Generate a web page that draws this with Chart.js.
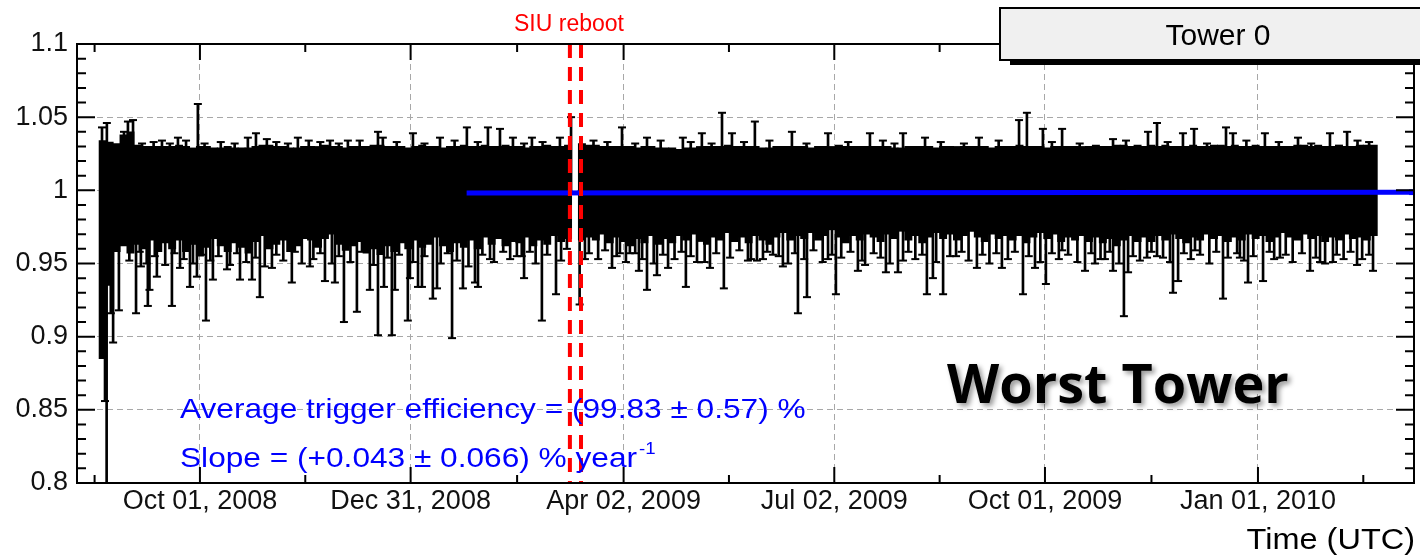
<!DOCTYPE html>
<html>
<head>
<meta charset="utf-8">
<title>Tower 0 trigger efficiency</title>
<script src="https://cdn.jsdelivr.net/npm/chart.js@4.4.1/dist/chart.umd.min.js"></script>
<style>
  html, body { margin: 0; padding: 0; background: #fff; }
  #c { display: block; }
</style>
</head>
<body>
<canvas id="c" width="1420" height="556"></canvas>
<script>
(() => {
    'use strict';

    // ===== Ejes (x = días desde Oct 01, 2008) =====
    const X_MIN = -53.1, X_MAX = 524.4;
    const xTickDays   = [0, 91, 183, 274, 365, 457];
    const xTickLabels = ['Oct 01, 2008', 'Dec 31, 2008', 'Apr 02, 2009', 'Jul 02, 2009', 'Oct 01, 2009', 'Jan 01, 2010'];
    const xMinorDays  = [-45.5, 45.5, 137, 228.5, 319.5, 411, 502.5];
    const yTickValues = [0.8, 0.85, 0.9, 0.95, 1, 1.05, 1.1];
    const yTickLabels = ['0.8', '0.85', '0.9', '0.95', '1', '1.05', '1.1'];
    const yMinorValues = [0.81, 0.82, 0.83, 0.84, 0.86, 0.87, 0.88, 0.89, 0.91, 0.92, 0.93, 0.94,
                          0.96, 0.97, 0.98, 0.99, 1.01, 1.02, 1.03, 1.04, 1.06, 1.07, 1.08, 1.09];

    // ===== Banda densa de barras de error (cada 3 días) =====
    const binDay = [
        -42, -39, -36, -33, -30, -27, -24, -21, -18, -15,
        -12, -9, -6, -3, 0, 3, 6, 9, 12, 15,
        18, 21, 24, 27, 30, 33, 36, 39, 42, 45,
        48, 51, 54, 57, 60, 63, 66, 69, 72, 75,
        78, 81, 84, 87, 90, 93, 96, 99, 102, 105,
        108, 111, 114, 117, 120, 123, 126, 129, 132, 135,
        138, 141, 144, 147, 150, 153, 156, 159, 165, 168,
        171, 174, 177, 180, 183, 186, 189, 192, 195, 198,
        201, 204, 207, 210, 213, 216, 219, 222, 225, 228,
        231, 234, 237, 240, 243, 246, 249, 252, 255, 258,
        261, 264, 267, 270, 273, 276, 279, 282, 285, 288,
        291, 294, 297, 300, 303, 306, 309, 312, 315, 318,
        321, 324, 327, 330, 333, 336, 339, 342, 345, 348,
        351, 354, 357, 360, 363, 366, 369, 372, 375, 378,
        381, 384, 387, 390, 393, 396, 399, 402, 405, 408,
        411, 414, 417, 420, 423, 426, 429, 432, 435, 438,
        441, 444, 447, 450, 453, 456, 459, 462, 465, 468,
        471, 474, 477, 480, 483, 486, 489, 492, 495, 498,
        501, 504, 507
    ];
    const bandLo = [
        0.885, 0.935, 0.958, 0.962, 0.957, 0.963, 0.960, 0.966, 0.958, 0.964,
        0.960, 0.966, 0.958, 0.963, 0.955, 0.961, 0.967, 0.962, 0.958, 0.964,
        0.961, 0.957, 0.965, 0.969, 0.960, 0.963, 0.966, 0.958, 0.962, 0.967,
        0.966, 0.961, 0.967, 0.970, 0.963, 0.959, 0.962, 0.965, 0.957, 0.960,
        0.956, 0.962, 0.958, 0.964, 0.960, 0.966, 0.961, 0.963, 0.968, 0.962,
        0.958, 0.964, 0.961, 0.966, 0.960, 0.968, 0.963, 0.967, 0.962, 0.965,
        0.964, 0.968, 0.962, 0.966, 0.963, 0.969, 0.965, 0.967, 0.966, 0.968,
        0.966, 0.970, 0.964, 0.968, 0.965, 0.962, 0.967, 0.964, 0.969, 0.963,
        0.967, 0.964, 0.969, 0.966, 0.970, 0.965, 0.963, 0.968, 0.966, 0.971,
        0.965, 0.968, 0.964, 0.969, 0.966, 0.963, 0.968, 0.971, 0.966, 0.969,
        0.967, 0.971, 0.966, 0.969, 0.973, 0.968, 0.964, 0.969, 0.966, 0.970,
        0.968, 0.965, 0.970, 0.967, 0.972, 0.966, 0.969, 0.964, 0.968, 0.971,
        0.967, 0.970, 0.966, 0.969, 0.972, 0.968, 0.965, 0.970, 0.967, 0.969,
        0.966, 0.969, 0.964, 0.968, 0.971, 0.967, 0.970, 0.965, 0.968, 0.966,
        0.969, 0.965, 0.968, 0.964, 0.967, 0.962, 0.966, 0.969, 0.965, 0.968,
        0.965, 0.969, 0.966, 0.970, 0.967, 0.964, 0.968, 0.966, 0.970, 0.967,
        0.969, 0.965, 0.968, 0.966, 0.970, 0.967, 0.969, 0.965, 0.968, 0.971,
        0.968, 0.966, 0.970, 0.967, 0.969, 0.965, 0.968, 0.966, 0.970, 0.967,
        0.968, 0.966, 0.969
    ];
    const bandHi = [
        1.034, 1.033, 1.032, 1.038, 1.040, 1.031, 1.030, 1.030, 1.030, 1.030,
        1.030, 1.031, 1.030, 1.029, 1.030, 1.030, 1.029, 1.029, 1.030, 1.029,
        1.029, 1.029, 1.030, 1.031, 1.031, 1.030, 1.030, 1.029, 1.029, 1.030,
        1.030, 1.030, 1.031, 1.030, 1.030, 1.029, 1.030, 1.030, 1.030, 1.031,
        1.031, 1.030, 1.030, 1.030, 1.029, 1.030, 1.031, 1.030, 1.030, 1.029,
        1.030, 1.030, 1.031, 1.030, 1.030, 1.031, 1.030, 1.030, 1.031, 1.030,
        1.030, 1.029, 1.030, 1.030, 1.031, 1.030, 1.030, 1.031, 1.032, 1.031,
        1.031, 1.030, 1.030, 1.030, 1.030, 1.030, 1.029, 1.030, 1.030, 1.029,
        1.029, 1.029, 1.028, 1.029, 1.029, 1.030, 1.030, 1.030, 1.030, 1.031,
        1.030, 1.030, 1.030, 1.030, 1.029, 1.029, 1.030, 1.030, 1.030, 1.030,
        1.030, 1.029, 1.030, 1.030, 1.030, 1.031, 1.030, 1.030, 1.030, 1.030,
        1.030, 1.030, 1.030, 1.029, 1.029, 1.030, 1.030, 1.030, 1.030, 1.029,
        1.030, 1.030, 1.030, 1.030, 1.030, 1.030, 1.030, 1.029, 1.030, 1.030,
        1.030, 1.031, 1.030, 1.030, 1.030, 1.029, 1.030, 1.030, 1.030, 1.030,
        1.030, 1.030, 1.031, 1.030, 1.030, 1.031, 1.031, 1.030, 1.031, 1.030,
        1.031, 1.030, 1.031, 1.030, 1.030, 1.030, 1.031, 1.030, 1.030, 1.031,
        1.031, 1.030, 1.031, 1.030, 1.030, 1.031, 1.030, 1.030, 1.030, 1.030,
        1.030, 1.031, 1.031, 1.030, 1.031, 1.030, 1.030, 1.031, 1.030, 1.030,
        1.031, 1.031, 1.031
    ];

    // ===== Barras de error largas (extremo inferior / superior) =====
    const lowDay = [
        -41, -40.3, -38.5, -37.5, -35, -27.6, -25.5, -22.5, -21.8, -18.6, -12.1, -8.6, -4.3, -1.3,
        2.6, 5.6, 11.7, 17.3, 22.5, 25.9, 31.1, 39.7, 47.5, 54, 58.3, 62.2, 67.8, 73.4, 76.9, 79.5,
        82.9, 84.2, 89.8, 90.7, 94.2, 95.9, 100.6, 102.4, 108.9, 113.6, 118.8, 120.1, 125.3, 136.9,
        140, 142.5, 147.7, 153.8, 158.5, 164, 166.3, 178, 181.4, 185.7, 189.6, 193.1, 197.4, 202.2,
        209.9, 214.7, 220.3, 226.3, 236.7, 240.6, 243.2, 247.5, 251.8, 258.3, 262.2, 271.3, 274.7,
        284.2, 287.3, 296.3, 301.5, 303.7, 314, 316.6, 321, 326.6, 335.6, 346.4, 355.5, 360.7,
        365.4, 372.4, 382.3, 386.6, 390.9, 394.4, 399.1, 400.9, 409.1, 413.4, 420.3, 422.5, 429.8,
        441.9, 449.2, 452.7, 459.2, 466.5, 479.5, 483.8, 489.4, 499.8, 506.7
    ];
    const lowVal = [
        0.856, 0.800, 0.916, 0.896, 0.918, 0.916, 0.948, 0.921, 0.932, 0.941, 0.921, 0.947, 0.934, 0.941,
        0.911, 0.939, 0.946, 0.939, 0.939, 0.927, 0.947, 0.937, 0.948, 0.938, 0.937, 0.910, 0.917, 0.932, 0.901, 0.934,
        0.901, 0.932, 0.911, 0.940, 0.934, 0.934, 0.926, 0.933, 0.899, 0.933, 0.937, 0.934, 0.953, 0.955,
        0.940, 0.958, 0.911, 0.929, 0.960, 0.922, 0.953, 0.947, 0.957, 0.957, 0.945, 0.932, 0.942, 0.947,
        0.934, 0.951, 0.947, 0.933, 0.952, 0.952, 0.953, 0.956, 0.948, 0.916, 0.927, 0.953, 0.929,
        0.945, 0.949, 0.944, 0.944, 0.952, 0.929, 0.940, 0.929, 0.955, 0.947, 0.947, 0.929, 0.947,
        0.936, 0.959, 0.945, 0.950, 0.953, 0.945, 0.914, 0.944, 0.954, 0.955, 0.930, 0.938, 0.959,
        0.926, 0.954, 0.937, 0.938, 0.954, 0.945, 0.951, 0.951, 0.949, 0.945
    ];
    const upDay = [
        -42.3, -40.2, -32.8, -31.1, -28.9, -16.4, -9.5, -0.9, 20.7, 24.2, 28.9, 42.3, 56.2, 63.9,
        76.9, 79, 92, 103.7, 115.3, 124.4, 129.6, 135.2, 143.4, 155.5, 160.3, 182.3, 193.1, 208.6,
        216.8, 225.5, 229.8, 239.7, 255.7, 271.3, 289.4, 303.7, 313.2, 336.5, 353.8, 357.2, 364.1,
        372.4, 394.4, 409.5, 413.4, 424.6, 429.4, 443.2, 446.2, 460, 474.3, 488.1, 495.5
    ];
    const upVal = [
        1.043, 1.046, 1.040, 1.047, 1.048, 1.034, 1.036, 1.059, 1.036, 1.039, 1.035, 1.036, 1.034, 1.034,
        1.040, 1.036, 1.039, 1.036, 1.043, 1.043, 1.042, 1.036, 1.036, 1.036, 1.050, 1.043, 1.036, 1.036,
        1.039, 1.053, 1.039, 1.047, 1.040, 1.039, 1.039, 1.039, 1.036, 1.036, 1.048, 1.053, 1.042,
        1.042, 1.035, 1.040, 1.046, 1.039, 1.042, 1.043, 1.039, 1.039, 1.036, 1.039, 1.040
    ];

    // ===== Barras cortas en el borde de la banda =====
    const shortLowDay = [
        -30.5, -26, -23, -19.5, -15, -11, -7, -3, 1, 4.5,
        8, 13, 16, 20, 24, 28, 33, 36, 41, 44,
        49, 52, 57, 60, 65, 70, 75, 81, 86, 92,
        97, 104, 107, 111, 116, 122, 127, 131, 134, 139,
        145, 150, 156, 168, 172, 175, 180, 184, 188, 191,
        196, 200, 205, 208, 212, 218, 223, 229, 233, 238,
        245, 250, 254, 257, 261, 265, 269, 273, 277, 281,
        286, 291, 294, 298, 306, 309, 312, 318, 324, 329,
        332, 338, 341, 344, 349, 352, 358, 363, 368, 371,
        375, 379, 385, 389, 393, 397, 403, 406, 411, 416,
        419, 425, 428, 432, 436, 439, 444, 448, 451, 455,
        462, 464, 469, 472, 476, 482, 486, 491, 494, 497,
        502, 505
    ];
    const shortLowVal = [
        0.952, 0.958, 0.950, 0.955, 0.949, 0.957, 0.953, 0.950, 0.956, 0.952,
        0.955, 0.949, 0.957, 0.951, 0.954, 0.948, 0.956, 0.952, 0.958, 0.950,
        0.953, 0.957, 0.950, 0.955, 0.951, 0.958, 0.949, 0.954, 0.956, 0.951,
        0.955, 0.950, 0.957, 0.952, 0.948, 0.956, 0.951, 0.958, 0.953, 0.955,
        0.950, 0.956, 0.952, 0.957, 0.953, 0.959, 0.955, 0.951, 0.957, 0.953,
        0.950, 0.956, 0.953, 0.958, 0.955, 0.951, 0.957, 0.954, 0.959, 0.953,
        0.958, 0.955, 0.950, 0.957, 0.953, 0.959, 0.951, 0.956, 0.954, 0.958,
        0.952, 0.957, 0.954, 0.950, 0.958, 0.953, 0.956, 0.951, 0.955, 0.958,
        0.952, 0.956, 0.950, 0.957, 0.953, 0.958, 0.955, 0.951, 0.957, 0.953,
        0.956, 0.951, 0.957, 0.953, 0.958, 0.950, 0.955, 0.952, 0.958, 0.954,
        0.951, 0.957, 0.953, 0.956, 0.950, 0.958, 0.954, 0.957, 0.952, 0.955,
        0.958, 0.953, 0.956, 0.951, 0.957, 0.954, 0.950, 0.956, 0.953, 0.958,
        0.953, 0.956
    ];
    const shortUpDay = [
        -25, -20, -13, -6, 2, 9, 15, 33, 38, 47,
        52, 60, 69, 85, 97, 110, 120, 140, 148, 170,
        176, 188, 199, 212, 221, 235, 246, 262, 280, 295,
        300, 320, 330, 345, 368, 380, 400, 418, 435, 452,
        466, 480, 500, 505
    ];
    const shortUpVal = [
        1.032, 1.033, 1.032, 1.034, 1.032, 1.033, 1.032, 1.033, 1.032, 1.034,
        1.033, 1.032, 1.034, 1.033, 1.032, 1.034, 1.033, 1.032, 1.033, 1.034,
        1.033, 1.032, 1.034, 1.033, 1.032, 1.033, 1.034, 1.032, 1.033, 1.034,
        1.032, 1.033, 1.032, 1.034, 1.033, 1.032, 1.034, 1.033, 1.032, 1.034,
        1.033, 1.032, 1.034, 1.033
    ];

    // ===== Ajuste lineal y reinicio SIU =====
    const fitDay = [115.2, 523.5];
    const fitVal = [0.9982, 0.9987];
    const rebootDays = [159.8, 164.6];

    const FONT = '"Liberation Sans", Arial, sans-serif';

    function drawLabel(ctx, str, x, y, font, color, align, sx) {
        ctx.save();
        ctx.font = font;
        ctx.fillStyle = color;
        ctx.textAlign = align;
        ctx.textBaseline = 'alphabetic';
        ctx.translate(x, y);
        ctx.scale(sx || 1, 1);
        ctx.fillText(str, 0, 0);
        const w = ctx.measureText(str).width * (sx || 1);
        ctx.restore();
        return w;
    }

    // Marco estilo ROOT + marcas menores + textos
    const framePlugin = {
        id: 'rootFrame',
        afterDatasetsDraw(chart) {
            const { ctx, chartArea: a, scales } = chart;
            const x = scales.x, y = scales.y;
            ctx.save();
            ctx.strokeStyle = '#000';
            ctx.lineWidth = 2;
            ctx.strokeRect(a.left, a.top, a.right - a.left, a.bottom - a.top);
            ctx.beginPath();
            const tickX = (d, len) => {
                const px = x.getPixelForValue(d);
                ctx.moveTo(px, a.bottom); ctx.lineTo(px, a.bottom - len);
                ctx.moveTo(px, a.top);    ctx.lineTo(px, a.top + len);
            };
            const tickY = (v, len) => {
                const py = y.getPixelForValue(v);
                ctx.moveTo(a.left, py);  ctx.lineTo(a.left + len, py);
                ctx.moveTo(a.right, py); ctx.lineTo(a.right - len, py);
            };
            xTickDays.forEach(d => tickX(d, 16));
            xMinorDays.forEach(d => tickX(d, 8));
            yTickValues.forEach(v => tickY(v, 18));
            yMinorValues.forEach(v => tickY(v, 9));
            ctx.stroke();
            ctx.restore();
        },
        afterDraw(chart) {
            const { ctx } = chart;

            // Caja "Tower 0" con sombra
            ctx.save();
            ctx.fillStyle = '#000';
            ctx.fillRect(1010, 60, 420, 5);
            ctx.fillStyle = '#f0f0f0';
            ctx.fillRect(1000, 8, 430, 52);
            ctx.strokeStyle = '#000';
            ctx.lineWidth = 2;
            ctx.strokeRect(1000, 8, 430, 52);
            ctx.restore();
            drawLabel(ctx, 'Tower 0', 1218, 45, '30px ' + FONT, '#000', 'center', 1);

            drawLabel(ctx, 'SIU reboot', 569, 31, '23px ' + FONT, '#ff0000', 'center', 1);

            const blue = '#0000ff';
            drawLabel(ctx, 'Average trigger efficiency = (99.83 \u00b1 0.57) %', 180, 418, '28px ' + FONT, blue, 'left', 1.13);
            const w = drawLabel(ctx, 'Slope = (+0.043 \u00b1 0.066) % year', 180, 467, '28px ' + FONT, blue, 'left', 1.13);
            drawLabel(ctx, '-1', 180 + w + 2, 454, '17px ' + FONT, blue, 'left', 1.1);

            drawLabel(ctx, 'Time (UTC)', 1415, 549, '29px ' + FONT, '#000', 'right', 1.12);

            ctx.save();
            ctx.shadowColor = 'rgba(0,0,0,0.4)';
            ctx.shadowOffsetX = 3;
            ctx.shadowOffsetY = 3;
            ctx.shadowBlur = 5;
            drawLabel(ctx, 'Worst Tower', 947, 403, 'bold 54px "Open Sans", sans-serif', '#000', 'left', 1);
            ctx.restore();
        }
    };

    const gridOpts = { color: '#a8a8a8', lineWidth: 1, drawTicks: false, offset: false };
    const tickFont = { family: FONT, size: 27 };

    const lowPts = (days, vals) => days.map((d, i) => ({ x: d, y: vals[i] }));
    const capData = lowPts(lowDay, lowVal)
        .concat(lowPts(upDay, upVal))
        .concat(lowPts(shortLowDay, shortLowVal))
        .concat(lowPts(shortUpDay, shortUpVal));
    const tailData = lowDay.map((d, i) => ({ x: d, y: [lowVal[i], 0.975] }))
        .concat(upDay.map((d, i) => ({ x: d, y: [1.0, upVal[i]] })))
        .concat(shortLowDay.map((d, i) => ({ x: d, y: [shortLowVal[i], 0.975] })))
        .concat(shortUpDay.map((d, i) => ({ x: d, y: [1.0, shortUpVal[i]] })));

    const datasets = [
        {
            type: 'line', label: 'reboot A', order: 1,
            data: [{ x: rebootDays[0], y: 1.1 }, { x: rebootDays[0], y: 0.8 }],
            borderColor: '#ff0000', borderWidth: 4, borderDash: [14, 9], pointRadius: 0
        },
        {
            type: 'line', label: 'reboot B', order: 1,
            data: [{ x: rebootDays[1], y: 1.1 }, { x: rebootDays[1], y: 0.8 }],
            borderColor: '#ff0000', borderWidth: 4, borderDash: [14, 9], pointRadius: 0
        },
        {
            type: 'line', label: 'fit', order: 2,
            data: fitDay.map((d, i) => ({ x: d, y: fitVal[i] })),
            borderColor: '#0000ff', backgroundColor: '#0000ff', borderWidth: 5,
            pointStyle: 'rect', pointRadius: [0, 4], pointBorderWidth: 0
        },
        {
            type: 'line', label: 'caps', order: 3, showLine: false,
            data: capData,
            pointStyle: 'line', pointRadius: 4, pointBorderWidth: 2,
            borderColor: '#000', backgroundColor: '#000'
        },
        {
            type: 'bar', label: 'tails', order: 4, grouped: false, barThickness: 2,
            data: tailData,
            backgroundColor: '#000', borderWidth: 0
        },
        {
            type: 'bar', label: 'band', order: 5, grouped: false, barThickness: 7.3,
            data: binDay.map((d, i) => ({ x: d, y: [bandLo[i], bandHi[i]] })),
            backgroundColor: '#000', borderWidth: 0
        }
    ];

    new Chart(document.getElementById('c').getContext('2d'), {
        type: 'bar',
        data: { datasets },
        options: {
            responsive: false,
            animation: false,
            devicePixelRatio: 1,
            layout: { padding: { top: 44, right: 6, left: 0, bottom: 0 } },
            plugins: { legend: { display: false }, tooltip: { enabled: false } },
            scales: {
                x: {
                    type: 'linear', min: X_MIN, max: X_MAX, offset: false,
                    grid: gridOpts,
                    border: { display: false, dash: [6, 4] },
                    afterBuildTicks: (s) => { s.ticks = xTickDays.map(v => ({ value: v })); },
                    afterFit: (s) => { s.height = 73; },
                    ticks: {
                        autoSkip: false, maxRotation: 0, padding: 2, color: '#111', font: tickFont,
                        callback: (v, i) => xTickLabels[i]
                    }
                },
                y: {
                    type: 'linear', min: 0.8, max: 1.1,
                    grid: gridOpts,
                    border: { display: false, dash: [6, 4] },
                    afterBuildTicks: (s) => { s.ticks = yTickValues.map(v => ({ value: v })); },
                    afterFit: (s) => { s.width = 77; },
                    ticks: {
                        padding: 9, color: '#111', font: tickFont,
                        callback: (v, i) => yTickLabels[i]
                    }
                }
            }
        },
        plugins: [framePlugin]
    });
})();
</script>
</body>
</html>
